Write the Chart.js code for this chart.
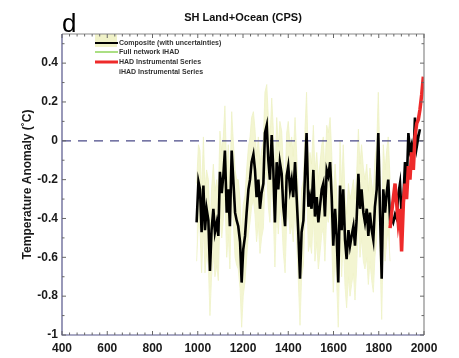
<!DOCTYPE html>
<html>
<head>
<meta charset="utf-8">
<script src="https://cdn.jsdelivr.net/npm/chart.js@4.4.1/dist/chart.umd.min.js"></script>
<style>
	html, body { margin: 0; padding: 0; background: #fff; }
	#chart { display: block; }
</style>
</head>
<body>
<canvas id="chart" width="459" height="358"></canvas>
<script>
// reconstruction years (composite + band)
var recYears = [995,1003,1010,1017,1025,1032,1039,1047,1054,1061,1069,1076,1084,1091,1098,1106,1113,1120,1128,1135,
	1142,1150,1157,1165,1172,1179,1187,1194,1201,1209,1216,1224,1231,1238,1246,1253,1260,1268,1275,1282,
	1290,1297,1305,1312,1319,1327,1334,1341,1349,1356,1363,1371,1378,1386,1393,1400,1408,1415,1422,1430,
	1437,1444,1452,1459,1467,1474,1481,1489,1496,1503,1511,1518,1526,1533,1540,1548,1555,1562,1570,1577,
	1585,1592,1599,1607,1614,1621,1629,1636,1643,1651,1658,1666,1673,1680,1688,1695,1702,1710,1717,1724,
	1732,1739,1747,1754,1761,1769,1776,1783,1791,1798,1805,1813,1820,1828,1835,1842,1850];
var composite = [-0.42,-0.21,-0.25,-0.47,-0.23,-0.46,-0.35,-0.41,-0.67,-0.46,-0.35,-0.47,-0.42,-0.49,-0.16,-0.27,-0.18,-0.05,-0.37,-0.25,
	-0.44,-0.05,-0.20,-0.37,-0.41,-0.44,-0.52,-0.73,-0.56,-0.49,-0.37,-0.25,-0.20,-0.11,-0.07,-0.15,-0.29,-0.20,-0.35,-0.27,
	-0.22,0.04,0.08,-0.10,-0.20,0.03,-0.15,-0.42,-0.11,-0.25,-0.11,-0.17,-0.34,-0.44,-0.18,-0.13,-0.25,-0.20,-0.29,-0.11,
	-0.29,-0.46,-0.71,-0.47,-0.41,-0.17,0.04,-0.34,-0.29,-0.35,-0.15,-0.39,-0.29,-0.42,-0.34,-0.25,-0.22,-0.39,-0.15,-0.18,
	-0.11,-0.29,-0.54,-0.35,-0.49,-0.73,-0.23,-0.46,-0.25,-0.51,-0.61,-0.46,-0.54,-0.49,-0.44,-0.54,-0.41,-0.17,-0.35,-0.25,
	-0.37,-0.42,-0.35,-0.49,-0.37,-0.46,-0.51,-0.34,-0.25,0.04,-0.34,-0.71,-0.25,-0.37,-0.27,-0.20,-0.41];
var bandUpper = [-0.22,-0.02,-0.05,-0.28,0.02,-0.25,-0.15,-0.20,-0.45,-0.25,-0.12,-0.26,-0.20,-0.28,0.05,-0.05,0.02,0.18,-0.15,-0.02,
	-0.22,0.15,0.00,-0.15,-0.20,-0.20,-0.30,-0.50,-0.33,-0.28,-0.15,-0.03,0.02,0.12,0.15,0.06,-0.08,0.02,-0.12,-0.05,
	0.00,0.25,0.29,0.12,0.00,0.22,0.06,-0.20,0.12,-0.03,0.10,0.05,-0.12,-0.22,0.04,0.10,-0.03,0.02,-0.08,0.12,
	-0.06,-0.25,-0.48,-0.25,-0.20,0.06,0.25,-0.12,-0.06,-0.12,0.08,-0.16,-0.06,-0.20,-0.12,-0.02,0.02,-0.17,0.08,0.04,
	0.12,-0.06,-0.32,-0.12,-0.26,-0.50,0.00,-0.24,-0.02,-0.28,-0.38,-0.22,-0.30,-0.26,-0.20,-0.30,-0.18,0.06,-0.12,-0.02,
	-0.14,-0.20,-0.12,-0.26,-0.14,-0.22,-0.28,-0.10,-0.02,0.25,-0.10,-0.48,-0.02,-0.15,-0.05,0.02,-0.20];
var bandLower = [-0.62,-0.42,-0.46,-0.68,-0.44,-0.68,-0.58,-0.64,-0.90,-0.70,-0.58,-0.70,-0.64,-0.72,-0.38,-0.50,-0.40,-0.28,-0.60,-0.48,
	-0.66,-0.28,-0.42,-0.60,-0.64,-0.66,-0.76,-0.96,-0.80,-0.72,-0.60,-0.48,-0.42,-0.34,-0.30,-0.38,-0.52,-0.42,-0.58,-0.50,
	-0.45,-0.20,-0.16,-0.34,-0.42,-0.20,-0.38,-0.65,-0.34,-0.48,-0.34,-0.40,-0.57,-0.68,-0.42,-0.36,-0.48,-0.43,-0.52,-0.34,
	-0.52,-0.70,-0.95,-0.70,-0.64,-0.40,-0.20,-0.57,-0.52,-0.58,-0.38,-0.62,-0.52,-0.66,-0.58,-0.48,-0.45,-0.62,-0.38,-0.42,
	-0.34,-0.52,-0.78,-0.60,-0.72,-0.96,-0.48,-0.70,-0.50,-0.75,-0.86,-0.70,-0.80,-0.74,-0.68,-0.82,-0.66,-0.42,-0.60,-0.50,
	-0.62,-0.66,-0.60,-0.74,-0.62,-0.72,-0.78,-0.60,-0.50,-0.20,-0.58,-0.92,-0.50,-0.62,-0.52,-0.45,-0.62];
// composite carried on past 1850
var lateYears = [1857,1864,1872,1879,1886,1894,1901,1909,1916,1923,1931,1938,1945,1953,1960,1968,1975,1982];
var lateComposite = [-0.40,-0.42,-0.38,-0.40,-0.28,-0.22,-0.38,-0.30,-0.11,-0.25,0.04,-0.05,-0.02,-0.10,0.12,-0.03,0.02,0.06];
// HAD instrumental series
var hadYears = [1850,1857,1864,1872,1879,1886,1894,1901,1909,1916,1923,1931,1938,1945,1953,1960,1968,1975,1982,1990,1997];
var hadValues = [-0.45,-0.37,-0.30,-0.22,-0.32,-0.42,-0.35,-0.57,-0.32,-0.22,-0.30,-0.13,-0.20,-0.06,-0.15,0.02,0.09,0.11,0.16,0.24,0.33];

var xTicks = [400,600,800,1000,1200,1400,1600,1800,2000];
var yTicks = [-1,-0.8,-0.6,-0.4,-0.2,0,0.2,0.4];
var legendLabels = ["Composite (with uncertainties)", "Full network iHAD", "HAD Instrumental Series", "iHAD Instrumental Series"];

function pts(xs, ys) {
	return xs.map((x, i) => ({ x: x, y: ys[i] }));
}

var fontFam = "'Liberation Sans', Arial, sans-serif";

var decorPlugin = {
	id: "decor",
	afterDraw(chart) {
		var ctx = chart.ctx;
		var a = chart.chartArea;
		var xs = chart.scales.x, ys = chart.scales.y;
		ctx.save();

		// panel letter and title
		ctx.fillStyle = "#000";
		ctx.font = "26px " + fontFam;
		ctx.textAlign = "left";
		ctx.textBaseline = "alphabetic";
		ctx.fillText("d", a.left, 32);
		ctx.font = "bold 11px " + fontFam;
		ctx.textAlign = "center";
		ctx.fillStyle = "#111";
		ctx.fillText("SH Land+Ocean (CPS)", (a.left + a.right) / 2, 21);

		// legend
		var lx = a.left + 33, lw = 22;
		ctx.fillStyle = "#f0f2c8";
		ctx.fillRect(lx, a.top, lw, 13);
		ctx.lineCap = "butt";
		var rows = [
			{ y: a.top + 9, color: "#000", w: 2 },
			{ y: a.top + 18, color: "#8fd45a", w: 1.5 },
			{ y: a.top + 28, color: "#ee2a2a", w: 3 },
			{ y: a.top + 38, color: null, w: 0 }
		];
		ctx.font = "bold 7px " + fontFam;
		ctx.textAlign = "left";
		ctx.textBaseline = "middle";
		rows.forEach((r, i) => {
			if (r.color) {
				ctx.strokeStyle = r.color;
				ctx.lineWidth = r.w;
				ctx.beginPath();
				ctx.moveTo(lx, r.y);
				ctx.lineTo(lx + lw + 1, r.y);
				ctx.stroke();
			}
			ctx.fillStyle = "#333";
			ctx.fillText(legendLabels[i], lx + lw + 2, r.y + 0.5);
		});

		// frame
		ctx.lineWidth = 1.2;
		ctx.strokeStyle = "#8a8a8a";
		ctx.beginPath();
		ctx.moveTo(a.left, a.top);
		ctx.lineTo(a.right, a.top);
		ctx.lineTo(a.right, a.bottom);
		ctx.stroke();
		ctx.strokeStyle = "#55558a";
		ctx.beginPath();
		ctx.moveTo(a.left, a.top);
		ctx.lineTo(a.left, a.bottom);
		ctx.lineTo(a.right, a.bottom);
		ctx.stroke();

		// inward ticks
		ctx.lineWidth = 1;
		ctx.strokeStyle = "#666";
		for (var k = 0; k <= 48; k++) {
			var yr = 400 + k * 200 / 6;
			var px = xs.getPixelForValue(yr);
			var len = (k % 6 === 0) ? 4 : 2.5;
			ctx.beginPath();
			ctx.moveTo(px, a.bottom); ctx.lineTo(px, a.bottom - len);
			ctx.moveTo(px, a.top); ctx.lineTo(px, a.top + len);
			ctx.stroke();
		}
		for (var j = 0; j <= 15; j++) {
			var v = -1 + j * 0.1;
			var py = ys.getPixelForValue(v);
			var l2 = (j % 2 === 0) ? 4 : 2.5;
			ctx.beginPath();
			ctx.moveTo(a.left, py); ctx.lineTo(a.left + l2, py);
			ctx.moveTo(a.right, py); ctx.lineTo(a.right - l2, py);
			ctx.stroke();
		}
		ctx.restore();
	}
};

var chart = new Chart(document.getElementById("chart"), {
	type: "line",
	data: {
		datasets: [
			{
				label: "upper",
				data: pts(recYears, bandUpper),
				borderColor: "#eef1c4",
				borderWidth: 0.8,
				backgroundColor: "rgba(242,244,204,0.9)",
				fill: "+1",
				pointRadius: 0,
				order: 5,
			},
			{
				label: "lower",
				data: pts(recYears, bandLower),
				borderColor: "#eef1c4",
				borderWidth: 0.8,
				fill: false,
				pointRadius: 0,
				order: 5,
			},
			{
				label: "zero",
				data: pts([400, 2000], [0, 0]),
				borderColor: "#4a4a88",
				borderWidth: 1.3,
				borderDash: [9, 7],
				pointRadius: 0,
				fill: false,
				order: 4,
			},
			{
				label: "Composite (with uncertainties)",
				data: pts(recYears.concat(lateYears), composite.concat(lateComposite)),
				borderColor: "#000",
				borderWidth: 2.6,
				pointRadius: 0,
				fill: false,
				order: 2,
			},
			{
				label: "HAD Instrumental Series",
				data: pts(hadYears, hadValues),
				borderColor: "#ee2a2a",
				borderWidth: 3.5,
				pointRadius: 0,
				fill: false,
				order: 1,
			},
		],
	},
	options: {
		responsive: false,
		animation: false,
		layout: { padding: { top: 34, right: 35, left: 0, bottom: 0 } },
		plugins: {
			legend: { display: false },
			tooltip: { enabled: false },
		},
		scales: {
			x: {
				type: "linear",
				min: 400,
				max: 2000,
				afterBuildTicks: (s) => { s.ticks = xTicks.map((v) => ({ value: v })); },
				afterFit: (s) => { s.height = 23; },
				grid: { display: false, drawTicks: false },
				border: { display: false },
				ticks: {
					padding: 6,
					maxRotation: 0,
					color: "#1a1a1a",
					font: { family: fontFam, size: 12, weight: "bold" },
					callback: (v) => String(v),
				},
			},
			y: {
				min: -1,
				max: 0.55,
				afterBuildTicks: (s) => { s.ticks = yTicks.map((v) => ({ value: v })); },
				afterFit: (s) => { s.width = 62; },
				grid: { display: false, drawTicks: false },
				border: { display: false },
				title: {
					display: true,
					text: "Temperature Anomaly (˚C)",
					color: "#1a1a1a",
					font: { family: fontFam, size: 12, weight: "bold" },
					padding: { top: 20, bottom: 0 },
				},
				ticks: {
					padding: 4,
					color: "#1a1a1a",
					font: { family: fontFam, size: 12, weight: "bold" },
					callback: (v) => (Math.abs(v) < 1e-9 ? "0" : String(+v.toFixed(1))),
				},
			},
		},
	},
	plugins: [decorPlugin],
});
</script>
</body>
</html>
